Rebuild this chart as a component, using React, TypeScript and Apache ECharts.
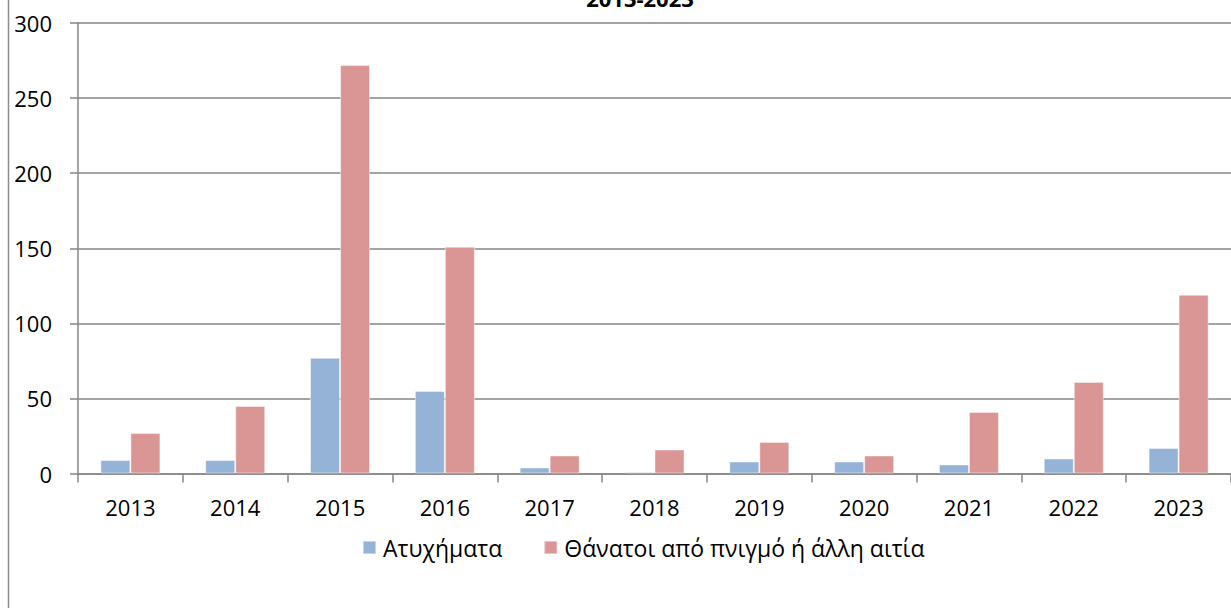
import React, { useEffect, useRef } from "react";
import * as echarts from "echarts";

const years = ["2013", "2014", "2015", "2016", "2017", "2018", "2019", "2020", "2021", "2022", "2023"];
const accidents = [9, 9, 77, 55, 4, 1, 8, 8, 6, 10, 17];
const deaths = [27, 45, 272, 151, 12, 16, 21, 12, 41, 61, 119];
const seriesNames = ["Ατυχήματα", "Θάνατοι από πνιγμό ή άλλη αιτία"];
const titleText = "2013-2023";

const FONT = '"Open Sans", "Noto Sans", sans-serif';

export default function App() {
  const ref = useRef<HTMLDivElement>(null);
  useEffect(() => {
    document.body.style.margin = "0";
    const chart = echarts.init(ref.current!, null, { renderer: "svg" });
    chart.setOption({
      animation: false,
      backgroundColor: "#ffffff",
      textStyle: { fontFamily: FONT },
      grid: { left: 78, right: -6, top: 23, bottom: 134.5, containLabel: false },
      legend: {
        left: 357,
        top: 531,
        itemWidth: 13,
        itemHeight: 13,
        itemGap: 41,
        icon: "rect",
        textStyle: { fontFamily: FONT, fontSize: 23, color: "#000", padding: [0, 0, 0, 2] },
        data: seriesNames,
      },
      graphic: [
        {
          type: "line",
          shape: { x1: 8.5, y1: 0, x2: 8.5, y2: 608 },
          style: { stroke: "#8c8c8c", lineWidth: 1.5 },
        },
        {
          type: "text",
          style: {
            text: titleText,
            x: 640,
            y: 9,
            textAlign: "center",
            textVerticalAlign: "bottom",
            font: `bold 22px ${FONT}`,
            fill: "#000",
          },
        },
      ],
      xAxis: {
        type: "category",
        data: years,
        axisLine: { lineStyle: { color: "#868686", width: 1.5 } },
        axisTick: { show: true, length: 9, lineStyle: { color: "#868686", width: 1.5 } },
        axisLabel: { color: "#000", fontSize: 22, fontFamily: FONT, margin: 22 },
      },
      yAxis: {
        type: "value",
        min: 0,
        max: 300,
        interval: 50,
        axisLine: { show: true, lineStyle: { color: "#868686", width: 1.5 } },
        axisTick: { show: true, length: 8, lineStyle: { color: "#868686", width: 1.5 } },
        splitLine: { lineStyle: { color: "#868686", width: 1.5 } },
        axisLabel: { color: "#000", fontSize: 22, fontFamily: FONT, margin: 26 },
      },
      series: [
        {
          name: seriesNames[0],
          type: "bar",
          data: accidents,
          barWidth: 30,
          barGap: "0%",
          itemStyle: { color: "#95B3D7", borderColor: "rgba(255,255,255,0.45)", borderWidth: 1 },
        },
        {
          name: seriesNames[1],
          type: "bar",
          data: deaths,
          barWidth: 30,
          barGap: "0%",
          itemStyle: { color: "#D99694", borderColor: "rgba(255,255,255,0.45)", borderWidth: 1 },
        },
      ],
    });
    return () => chart.dispose();
  }, []);
  return <div ref={ref} style={{ width: 1231, height: 608 }} />;
}
